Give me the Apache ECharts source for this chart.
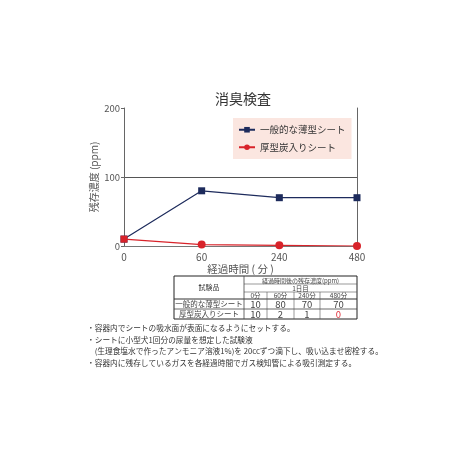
<!DOCTYPE html>
<html>
<head>
<meta charset="utf-8">
<script src="https://cdn.jsdelivr.net/npm/echarts@6/dist/echarts.min.js"></script>
<style>
  html, body { margin: 0; padding: 0; background: #fff; }
  #main { width: 450px; height: 450px; }
</style>
</head>
<body>
<div id="main"></div>
<script>
// 消臭検査 データ
const timeCategories = ['0', '60', '240', '480'];
const timeColumnLabels = ['0分', '60分', '240分', '480分'];
const thinSheetName = '一般的な薄型シート';
const thickSheetName = '厚型炭入りシート';
const thinSheetValues = [10, 80, 70, 70];
const thickSheetValues = [10, 2, 1, 0];
const yTicks = { min: 0, max: 200, interval: 100 };
const tableTitle = '経過時間後の残存濃度(ppm)';
const tableDay = '1日目';
const tableSampleHead = '試験品';
const notes = [
  '・容器内でシートの吸水面が表面になるようにセットする。',
  '・シートに小型犬1回分の尿量を想定した試験液',
  '　(生理食塩水で作ったアンモニア溶液1%)を 20ccずつ滴下し、吸い込ませ密栓する。',
  '・容器内に残存しているガスを各経過時間でガス検知管による吸引測定する。'
];

const FONT = '"Noto Sans CJK JP", "Noto Sans", sans-serif';
const navy = '#1d2b5c';
const red = '#d8232a';

// 表（グラフの下）
function buildTable() {
  const colX = [174, 244, 267, 294, 320, 357];
  const rowY = [276, 284, 292, 299, 309, 319];
  const els = [];
  const line = (x1, y1, x2, y2, w, c) => els.push({
    type: 'line', shape: { x1, y1, x2, y2 }, style: { stroke: c || '#555', lineWidth: w || 0.6 }, silent: true
  });
  const text = (t, x, y, size, color) => els.push({
    type: 'text', x, y, silent: true,
    style: { text: t, fontSize: size, fontFamily: FONT, fill: color || '#444', align: 'center', verticalAlign: 'middle' }
  });
  // 外枠
  els.push({
    type: 'rect', shape: { x: colX[0], y: rowY[0], width: colX[5] - colX[0], height: rowY[5] - rowY[0] },
    style: { fill: '#fff', stroke: '#222', lineWidth: 1 }, silent: true
  });
  // 横線
  line(colX[1], rowY[1], colX[5], rowY[1]);
  line(colX[1], rowY[2], colX[5], rowY[2]);
  line(colX[0], rowY[3], colX[5], rowY[3], 1, '#333');
  line(colX[0], rowY[4], colX[5], rowY[4], 0.8, '#444');
  // 縦線
  line(colX[1], rowY[0], colX[1], rowY[5], 0.8, '#444');
  for (let i = 2; i < 5; i++) line(colX[i], rowY[2], colX[i], rowY[5]);

  text(tableSampleHead, (colX[0] + colX[1]) / 2, (rowY[0] + rowY[3]) / 2, 7);
  text(tableTitle, (colX[1] + colX[5]) / 2, (rowY[0] + rowY[1]) / 2 + 0.5, 6);
  text(tableDay, (colX[1] + colX[5]) / 2, (rowY[1] + rowY[2]) / 2 + 0.5, 6.5);
  timeColumnLabels.forEach((t, i) => text(t, (colX[i + 1] + colX[i + 2]) / 2, (rowY[2] + rowY[3]) / 2 + 0.5, 6.5));

  const rows = [[thinSheetName, thinSheetValues], [thickSheetName, thickSheetValues]];
  rows.forEach(([name, vals], r) => {
    const cy = (rowY[3 + r] + rowY[4 + r]) / 2 + 0.5;
    text(name, (colX[0] + colX[1]) / 2, cy, 7.5);
    vals.forEach((v, i) => {
      text(String(v), (colX[i + 1] + colX[i + 2]) / 2, cy, 9.5, v === 0 ? '#e0303a' : '#444');
    });
  });
  return els;
}

function buildNotes() {
  const ys = [328, 340, 351, 363];
  return notes.map((t, i) => ({
    type: 'text', x: 87, y: ys[i], silent: true,
    style: { text: t, fontSize: 7.7, fontFamily: FONT, fill: '#333', verticalAlign: 'middle' }
  }));
}

const chart = echarts.init(document.getElementById('main'));

const option = {
  backgroundColor: '#fff',
  textStyle: { fontFamily: FONT },
  animation: false,
  title: {
    text: '消臭検査',
    left: 210,
    top: 87,
    textStyle: { fontSize: 14, fontWeight: 'normal', color: '#333', fontFamily: FONT }
  },
  legend: {
    orient: 'vertical',
    left: 233,
    top: 118,
    backgroundColor: '#fbe6e0',
    padding: [7, 6, 7, 5],
    itemWidth: 16,
    itemHeight: 7,
    itemGap: 8,
    textStyle: { fontSize: 9.5, color: '#333', fontFamily: FONT },
    data: [thinSheetName, thickSheetName]
  },
  grid: { left: 124, right: 93, top: 108, bottom: 204 },
  xAxis: {
    type: 'category',
    data: timeCategories,
    boundaryGap: false,
    axisLine: { lineStyle: { color: '#777', width: 1 } },
    axisTick: { show: false },
    axisLabel: { fontSize: 10, color: '#555', margin: 6 },
    name: '経過時間 ( 分 )',
    nameLocation: 'middle',
    nameGap: 18,
    nameMoveOverlap: false,
    nameTextStyle: { fontSize: 10.5, color: '#555' }
  },
  yAxis: [
    {
      type: 'value',
      min: yTicks.min,
      max: yTicks.max,
      interval: yTicks.interval,
      axisLine: { show: true, lineStyle: { color: '#666', width: 1 } },
      axisTick: { show: true, length: 3, lineStyle: { color: '#666' } },
      axisLabel: { fontSize: 9.5, color: '#555', margin: 4 },
      splitLine: { show: true, showMaxLine: false, lineStyle: { color: '#555', width: 1 } },
      name: '残存濃度 (ppm)',
      nameLocation: 'middle',
      nameGap: 25,
      nameRotate: 90,
      nameMoveOverlap: false,
      nameTextStyle: { fontSize: 10, color: '#555' }
    },
    {
      type: 'value',
      position: 'right',
      min: yTicks.min,
      max: yTicks.max,
      interval: yTicks.interval,
      axisLine: { show: true, lineStyle: { color: '#666', width: 1 } },
      axisTick: { show: false },
      axisLabel: { show: false },
      splitLine: { show: false }
    }
  ],
  series: [
    {
      name: thinSheetName,
      type: 'line',
      data: thinSheetValues,
      symbol: 'rect',
      symbolSize: 7,
      itemStyle: { color: navy },
      lineStyle: { color: navy, width: 1.2 },
      z: 2
    },
    {
      name: thickSheetName,
      type: 'line',
      data: thickSheetValues.map((v, i) => i === 0 ? { value: v, symbol: 'rect', symbolSize: 7 } : v),
      symbol: 'circle',
      symbolSize: 8,
      itemStyle: { color: red },
      lineStyle: { color: red, width: 1.2 },
      z: 3
    }
  ],
  graphic: buildTable().concat(buildNotes())
};

chart.setOption(option);
</script>
</body>
</html>
